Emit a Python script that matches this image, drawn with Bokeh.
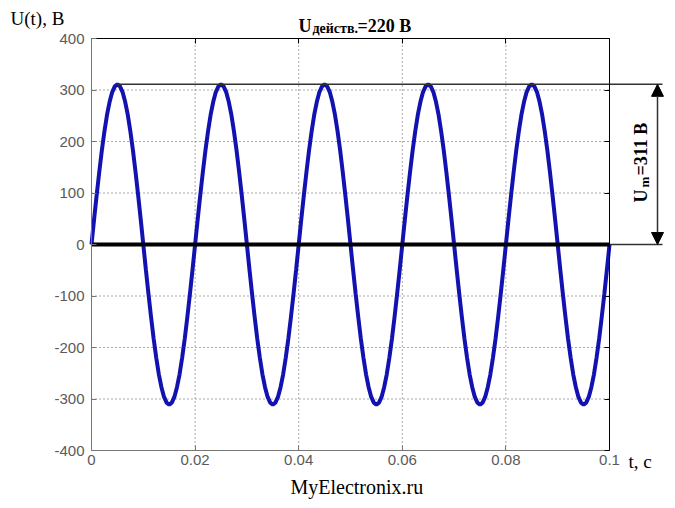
from bokeh.plotting import figure
from bokeh.models import (Range1d, LinearAxis, FixedTicker, CustomJSTickFormatter,
                          Label, Arrow, NormalHead)
from bokeh.embed import file_html
from bokeh.resources import INLINE
import math

# ---------------- data ----------------
t = [round(i * 0.0005, 4) for i in range(201)]          # time, s
u = [
    0, 49, 96, 141, 183, 220, 252, 277, 296, 307, 311, 307, 296, 277, 252, 220, 183, 141, 96, 49,
    0, -49, -96, -141, -183, -220, -252, -277, -296, -307, -311, -307, -296, -277, -252, -220, -183, -141, -96, -49,
    0, 49, 96, 141, 183, 220, 252, 277, 296, 307, 311, 307, 296, 277, 252, 220, 183, 141, 96, 49,
    0, -49, -96, -141, -183, -220, -252, -277, -296, -307, -311, -307, -296, -277, -252, -220, -183, -141, -96, -49,
    0, 49, 96, 141, 183, 220, 252, 277, 296, 307, 311, 307, 296, 277, 252, 220, 183, 141, 96, 49,
    0, -49, -96, -141, -183, -220, -252, -277, -296, -307, -311, -307, -296, -277, -252, -220, -183, -141, -96, -49,
    0, 49, 96, 141, 183, 220, 252, 277, 296, 307, 311, 307, 296, 277, 252, 220, 183, 141, 96, 49,
    0, -49, -96, -141, -183, -220, -252, -277, -296, -307, -311, -307, -296, -277, -252, -220, -183, -141, -96, -49,
    0, 49, 96, 141, 183, 220, 252, 277, 296, 307, 311, 307, 296, 277, 252, 220, 183, 141, 96, 49,
    0, -49, -96, -141, -183, -220, -252, -277, -296, -307, -311, -307, -296, -277, -252, -220, -183, -141, -96, -49,
    0,
]
x_ticks = [0, 0.02, 0.04, 0.06, 0.08, 0.1]
y_ticks = [-400, -300, -200, -100, 0, 100, 200, 300, 400]
UM = 311          # amplitude, V
PEAK_T = 0.005    # first peak time, s
title_main, title_sub, title_rest = "U", "действ.", "=220 В"
y_title = "U(t), В"
x_title = "t, с"
um_main, um_sub, um_rest = "U", "m", "=311 В"
footer = "MyElectronix.ru"

# ---------------- layout helpers (canvas px -> data) ----------------
W, H = 673, 506
FL, FR, FT, FB = 91, 609, 38, 450   # plot box edges in canvas px
XMIN, XMAX = x_ticks[0], x_ticks[-1]
YMIN, YMAX = y_ticks[0], y_ticks[-1]


def dx(px):
    return XMIN + (px - FL) / (FR - FL) * (XMAX - XMIN)


def dy(py):
    return YMAX - (py - FT) / (FB - FT) * (YMAX - YMIN)


p = figure(width=W, height=H, x_range=Range1d(dx(0), dx(W)), y_range=Range1d(dy(H), dy(0)),
           output_backend="svg", toolbar_location=None,
           x_axis_location=None, y_axis_location=None,
           min_border_left=0, min_border_right=0, min_border_top=0, min_border_bottom=0)
p.outline_line_color = None
p.background_fill_color = "white"
p.border_fill_color = "white"
p.grid.visible = False

fmt = CustomJSTickFormatter(code="return tick.toString();")
blank = CustomJSTickFormatter(code="return '';")


def make_axis(ticks, loc, fixed, bounds, labels, color):
    ax = LinearAxis(ticker=FixedTicker(ticks=ticks), fixed_location=fixed, bounds=bounds,
                    formatter=fmt if labels else blank,
                    major_tick_in=5, major_tick_out=0, minor_tick_in=0, minor_tick_out=0,
                    axis_line_color=color, axis_line_width=1,
                    major_tick_line_color=color,
                    major_label_text_font="Liberation Sans",
                    major_label_text_font_size="15px",
                    major_label_text_color="#5a5a5a",
                    major_label_standoff=4 if loc in ("below", "above") else 7)
    p.add_layout(ax, loc)


make_axis(x_ticks, "below", YMIN, (XMIN, XMAX), True, "#777777")
make_axis(y_ticks, "left", XMIN, (YMIN, YMAX), True, "#777777")
make_axis(x_ticks, "above", YMAX, (XMIN, XMAX), False, "black")
make_axis(y_ticks, "right", XMAX, (YMIN, YMAX), False, "black")

# dotted grid
gx = x_ticks[1:-1]
gy = y_ticks[1:-1]
p.segment(x0=gx, y0=[YMIN] * len(gx), x1=gx, y1=[YMAX] * len(gx),
          line_color="#555555", line_dash="1 3", line_width=1)
p.segment(x0=[XMIN] * len(gy), y0=gy, x1=[XMAX] * len(gy), y1=gy,
          line_color="#555555", line_dash="1 3", line_width=1)

# sine
p.line(t, u, line_color="#1212b0", line_width=4)

# zero line
p.line([XMIN, XMAX], [0, 0], line_color="black", line_width=4)

# amplitude line and extensions
p.segment(x0=[PEAK_T, XMAX], y0=[UM, 0], x1=[dx(662), dx(662)], y1=[UM, 0],
          line_color="#333333", line_width=1.5)
head = dict(size=12, fill_color="black", line_color="black")
p.add_layout(Arrow(start=NormalHead(**head), end=NormalHead(**head),
                   x_start=dx(657), y_start=0, x_end=dx(657), y_end=UM,
                   line_color="#333333", line_width=1.5))

serif = "Liberation Serif"


def lab(text, px, py, size, bold=False, align="left", baseline="middle", angle=0, color="black"):
    p.add_layout(Label(x=dx(px), y=dy(py), text=text, text_font=serif,
                       text_font_size=f"{size}px", text_font_style="bold" if bold else "normal",
                       text_align=align, text_baseline=baseline, angle=angle, text_color=color))


# title
lab(title_main, 298, 25, 18, bold=True, baseline="alphabetic")
lab(title_sub, 312, 28, 14, bold=True, baseline="alphabetic")
lab(title_rest, 357, 25, 18, bold=True, baseline="alphabetic")

# axis titles
lab(y_title, 10, 18, 19)
lab(x_title, 628, 461, 19)
lab(footer, 290, 486, 20)

# rotated amplitude label
lab(um_main, 640, 202, 18, bold=True, baseline="alphabetic", angle=math.pi / 2)
lab(um_sub, 644, 187, 13, bold=True, baseline="alphabetic", angle=math.pi / 2)
lab(um_rest, 640, 175, 18, bold=True, baseline="alphabetic", angle=math.pi / 2)

open("out.html", "w").write(file_html(p, INLINE))
